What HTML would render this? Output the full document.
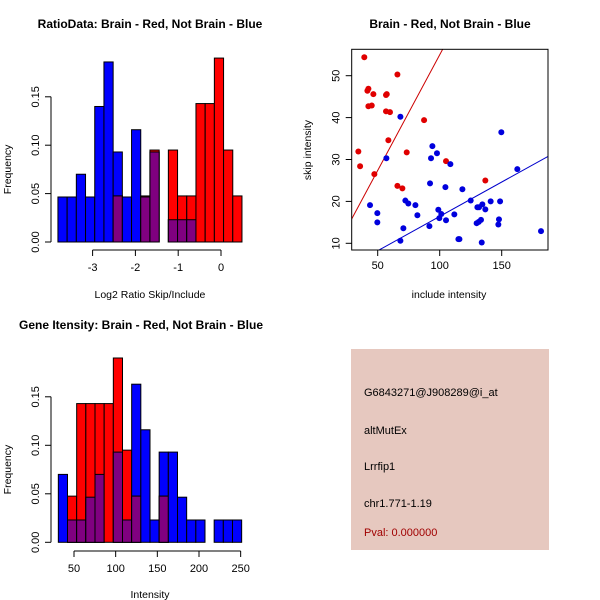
<!DOCTYPE html>
<html><head><meta charset="utf-8"><style>
html,body{margin:0;padding:0;background:#fff}
svg{display:block;font-family:"Liberation Sans",sans-serif}
</style></head><body>
<svg id="c" width="600" height="600" viewBox="0 0 600 600">
<rect x="351" y="349" width="198" height="201" fill="#e6c8bf"/>
<text x="364" y="396" font-size="11">G6843271@J908289@i_at</text>
<text x="364" y="434" font-size="11">altMutEx</text>
<text x="364" y="470" font-size="11">Lrrfip1</text>
<text x="364" y="507" font-size="11">chr1.771-1.19</text>
<text x="364" y="536" font-size="11" fill="#a00000">Pval: 0.000000</text>
</svg>
<script>
// Histogram 1 data (frequencies)
const h1Start = -3.81, h1Width = 0.215;
const h1Blue = [0.0465,0.0465,0.07,0.0465,0.14,0.186,0.093,0.0465,0.116,0.0465,0.093,0,0.023,0.023,0.023,0,0,0,0,0];
const h1Red  = [0,0,0,0,0,0,0.0476,0,0,0.0476,0.095,0,0.095,0.0476,0.0476,0.143,0.143,0.19,0.095,0.0476];
const h1XTicks = [-3,-2,-1,0];
const yTicks = [0,0.05,0.10,0.15];
const yTickLabels = ["0.00","0.05","0.10","0.15"];
// Histogram 2 data
const h2Start = 31.2, h2Width = 11;
const h2Blue = [0.07,0.023,0.023,0.0465,0.07,0,0.093,0.023,0.163,0.116,0.023,0.093,0.093,0.0465,0.023,0.023,0,0.023,0.023,0.023];
const h2Red  = [0,0.0476,0.143,0.143,0.143,0.143,0.19,0.095,0.0476,0,0,0.0476,0,0,0,0,0,0,0,0];
const h2XTicks = [50,100,150,200,250];
// Scatter data
const redX = [39.2,65.9,41.7,42.5,46.5,42.5,45.2,56.7,57.3,56.7,59.9,58.6,87.4,34.4,35.8,47.3,65.9,69.9,73.4,105.1,136.8];
const redY = [54.4,50.3,46.4,46.9,45.6,42.7,42.9,45.4,45.6,41.5,41.3,34.6,39.4,31.9,28.4,26.5,23.7,23.1,31.7,29.6,25.0];
const blueX = [68.3,149.7,57.0,94.1,93.0,97.8,108.6,92.2,104.6,118.3,125.0,162.6,43.8,49.7,49.7,72.3,74.7,80.4,82.0,98.9,99.7,101.3,105.1,111.8,70.7,68.3,91.7,115.1,115.9,133.9,130.4,134.4,131.7,141.1,148.7,136.8,129.8,131.5,133.3,147.8,147.3,181.7];
const blueY = [40.2,36.5,30.3,33.2,30.3,31.5,28.9,24.3,23.4,22.9,20.2,27.7,19.1,17.2,15.0,20.2,19.5,19.1,16.7,18.0,16.0,17.0,15.5,16.9,13.6,10.6,14.1,11.0,11.0,10.2,18.6,19.3,18.6,20.0,20.0,18.1,14.8,15.1,15.6,15.7,14.5,12.9];
const redFit = [-0.21, 0.552];
const blueFit = [0.02, 0.164];
const sXTicks = [50,100,150];
const sYTicks = [10,20,30,40,50];

const svg = document.getElementById('c');
const NS = 'http://www.w3.org/2000/svg';
function mk(tag, attrs, parent){const e=document.createElementNS(NS,tag);for(const k in attrs)e.setAttribute(k,attrs[k]);(parent||svg).appendChild(e);return e;}
function txt(x,y,s,attrs){const e=mk('text',Object.assign({x:x,y:y,'font-size':11,'text-anchor':'middle'},attrs||{}));e.textContent=s;return e;}

function hist(prefix, start, width, blue, red, xTicks, sx, sy, xAxisY, yAxisX, title, titleX, titleY, xlabel, xlabelY){
  const g = mk('g',{});
  
  
  for(let i=0;i<blue.length;i++){
    const x0=sx(start+i*width), x1=sx(start+(i+1)*width);
    const b=blue[i], r=red[i], m=Math.min(b,r);
    const draw=(v,col,nm)=>{ if(v<=0) return;
      const rc=mk('rect',{x:x0,y:sy(v),width:x1-x0,height:sy(0)-sy(v),fill:col,stroke:'#000','stroke-width':1},g);
      
      
    };
    draw(b,'#0000ff','blue'); draw(r,'#ff0000','red'); draw(m,'#800080','overlap');
  }
  const ax=mk('g',{stroke:'#000','stroke-width':1,fill:'none'});
  
  
  mk('line',{x1:sx(xTicks[0]),x2:sx(xTicks[xTicks.length-1]),y1:xAxisY,y2:xAxisY},ax);
  xTicks.forEach(t=>{mk('line',{x1:sx(t),x2:sx(t),y1:xAxisY,y2:xAxisY+6},ax);
    const l=txt(sx(t),xAxisY+21,String(t));
    
    });
  mk('line',{x1:yAxisX,x2:yAxisX,y1:sy(0),y2:sy(0.15)},ax);
  yTicks.forEach((t,i)=>{mk('line',{x1:yAxisX,x2:yAxisX-6,y1:sy(t),y2:sy(t)},ax);
    const l=txt(yAxisX-12,sy(t),yTickLabels[i],{transform:`rotate(-90 ${yAxisX-12} ${sy(t)})`});
    
    });
  const t=txt(titleX,titleY,title,{'font-weight':'bold','font-size':12});
  
  
  const xl=txt((sx(start)+sx(start+20*width))/2,xlabelY,xlabel,{'font-size':10.5});
  
  
  const cy=(sy(0)+sy(0.15))/2;
  const yl=txt(11,cy,'Frequency',{'font-size':10.5,transform:`rotate(-90 11 ${cy})`});
  
  
}
hist('ratio', h1Start, h1Width, h1Blue, h1Red, h1XTicks,
  v=>221+(v-0)*42.8, v=>242-v*968, 250, 51,
  'RatioData: Brain - Red, Not Brain - Blue', 150, 28, 'Log2 Ratio Skip/Include', 298);
hist('intensity', h2Start, h2Width, h2Blue, h2Red, h2XTicks,
  v=>74+(v-50)*0.8333, v=>542.3-v*970, 551, 51,
  'Gene Itensity: Brain - Red, Not Brain - Blue', 141, 329, 'Intensity', 598);

// Scatter
const px0=351.7, px1=548, py0=49.3, py1=250;
const sx=v=>377.7+(v-50)*1.24, sy=v=>243.3-(v-10)*4.19;
const sg=mk('g',{});


const defs=mk('defs',{},sg);
const cp=mk('clipPath',{id:'clip'},defs);
mk('rect',{x:px0,y:py0,width:px1-px0,height:py1-py0},cp);
const lg=mk('g',{'clip-path':'url(#clip)'},sg);
[[redFit,'#cc0000','red-fit-line'],[blueFit,'#0000cc','blue-fit-line']].forEach(([f,c,n])=>{
  const xa=20,xb=200;
  const l=mk('line',{x1:sx(xa),y1:sy(f[0]+f[1]*xa),x2:sx(xb),y2:sy(f[0]+f[1]*xb),stroke:c,'stroke-width':1},lg);
  
  
});
redX.forEach((x,i)=>{const c=mk('circle',{cx:sx(x),cy:sy(redY[i]),r:3,fill:'#e00000'},sg);
  
  });
blueX.forEach((x,i)=>{const c=mk('circle',{cx:sx(x),cy:sy(blueY[i]),r:3,fill:'#0000dd'},sg);
  
  });
const box=mk('rect',{x:px0,y:py0,width:px1-px0,height:py1-py0,fill:'none',stroke:'#000'},sg);


sXTicks.forEach(t=>{mk('line',{x1:sx(t),x2:sx(t),y1:py1,y2:py1+6,stroke:'#000'},sg);
  const l=txt(sx(t),py1+19,String(t));
  
  });
sYTicks.forEach(t=>{mk('line',{x1:px0,x2:px0-6,y1:sy(t),y2:sy(t),stroke:'#000'},sg);
  const l=txt(px0-12,sy(t),String(t),{transform:`rotate(-90 ${px0-12} ${sy(t)})`});
  
  });
const st=txt(450,28,'Brain - Red, Not Brain - Blue',{'font-weight':'bold','font-size':12});


const sxl=txt(449,298,'include intensity',{'font-size':10.5});


const syl=txt(311,150,'skip intensity',{'font-size':10.5,transform:'rotate(-90 311 150)'});


</script>
</body></html>
